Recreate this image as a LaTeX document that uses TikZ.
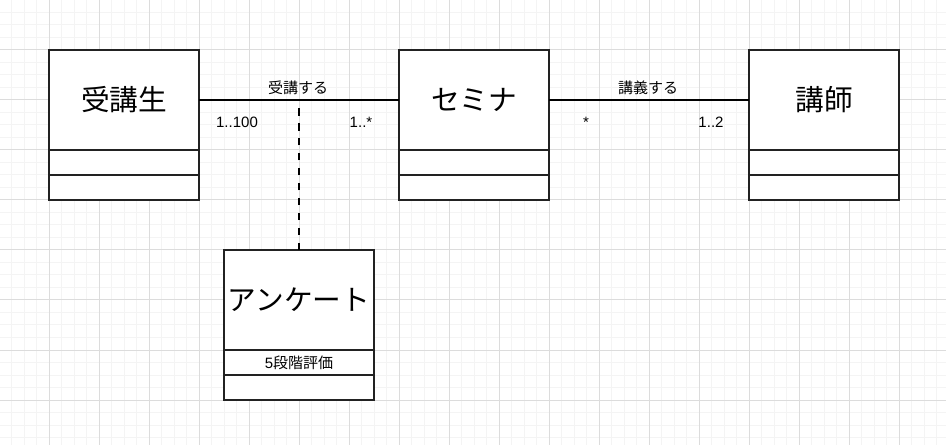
\documentclass[tikz,border=0pt]{standalone}
\usepackage{fontspec}
\setmainfont{Liberation Sans}
\newfontfamily\jp{Noto Sans CJK JP}
\definecolor{gridminor}{HTML}{F4F4F4}
\definecolor{gridmajor}{HTML}{DCDCDC}
\definecolor{boxline}{HTML}{222222}
\tikzset{
  minorline/.style={draw=gridminor,line width=0.75pt},
  majorline/.style={draw=gridmajor,line width=0.75pt},
  umltitle/.style={draw=boxline,fill=white,line width=0.8pt,inner sep=0pt,outer sep=0pt,
    minimum width=112.5pt,minimum height=75pt,font=\jp\fontsize{21.5pt}{25pt}\selectfont},
  umlcomp/.style={draw=boxline,fill=white,line width=0.8pt,inner sep=0pt,outer sep=0pt,
    minimum width=112.5pt,minimum height=18.75pt,font=\fontsize{11.25pt}{13pt}\selectfont},
  assoc/.style={draw=black,line width=2.2pt},
  assocdash/.style={draw=black,line width=2.2pt,dash pattern=on 5.6pt off 5.6pt},
  rolelabel/.style={inner sep=0pt,font=\fontsize{11.25pt}{13pt}\selectfont},
}
\begin{document}
\begin{tikzpicture}[x=0.75pt,y=-0.75pt]
\useasboundingbox (0,0) rectangle (946,445);
\fill[white] (0,0) rectangle (946,445);
% grid
\foreach \i in {-4,...,71} \draw[minorline] ({49+12.5*\i},0) -- ({49+12.5*\i},445);
\foreach \j in {0,...,35} \draw[minorline] (0,{12.5*\j}) -- (946,{12.5*\j});
\foreach \i in {-1,...,18} \draw[majorline] ({49+50*\i},0) -- ({49+50*\i},445);
\foreach \j in {0,...,8} \draw[majorline] (0,{50*\j}) -- (946,{50*\j});

% classes
\node[umltitle] (jukosei) at (124,100) {受講生};
\node[umlcomp] (jukoseiA) at (124,162.5) {};
\node[umlcomp] (jukoseiB) at (124,187.5) {};

\node[umltitle] (seminar) at (474,100) {セミナ};
\node[umlcomp] (seminarA) at (474,162.5) {};
\node[umlcomp] (seminarB) at (474,187.5) {};

\node[umltitle] (koshi) at (824,100) {講師};
\node[umlcomp] (koshiA) at (824,162.5) {};
\node[umlcomp] (koshiB) at (824,187.5) {};

\node[umltitle] (anketo) at (299,300) {アンケート};
\node[umlcomp] (anketoA) at (299,362.5) {5{\jp 段階評価}};
\node[umlcomp] (anketoB) at (299,387.5) {};

% associations
\draw[assoc] (jukosei.east) -- coordinate[midway] (mid) (seminar.west);
\draw[assoc] (seminar.east) -- (koshi.west);
\draw[assocdash] (anketo.north) -- (mid);

% labels
\node[rolelabel,font=\jp\fontsize{11.25pt}{13pt}\selectfont] (l1) at (298,88) {受講する};
\node[rolelabel,anchor=base] (m1) at (237,128) {1..100};
\node[rolelabel,anchor=base] (m2) at (361,128) {1..*};
\node[rolelabel,font=\jp\fontsize{11.25pt}{13pt}\selectfont] (l2) at (648,88) {講義する};
\node[rolelabel,anchor=base] (m3) at (586,128) {*};
\node[rolelabel,anchor=base] (m4) at (711,128) {1..2};
\end{tikzpicture}
\end{document}
